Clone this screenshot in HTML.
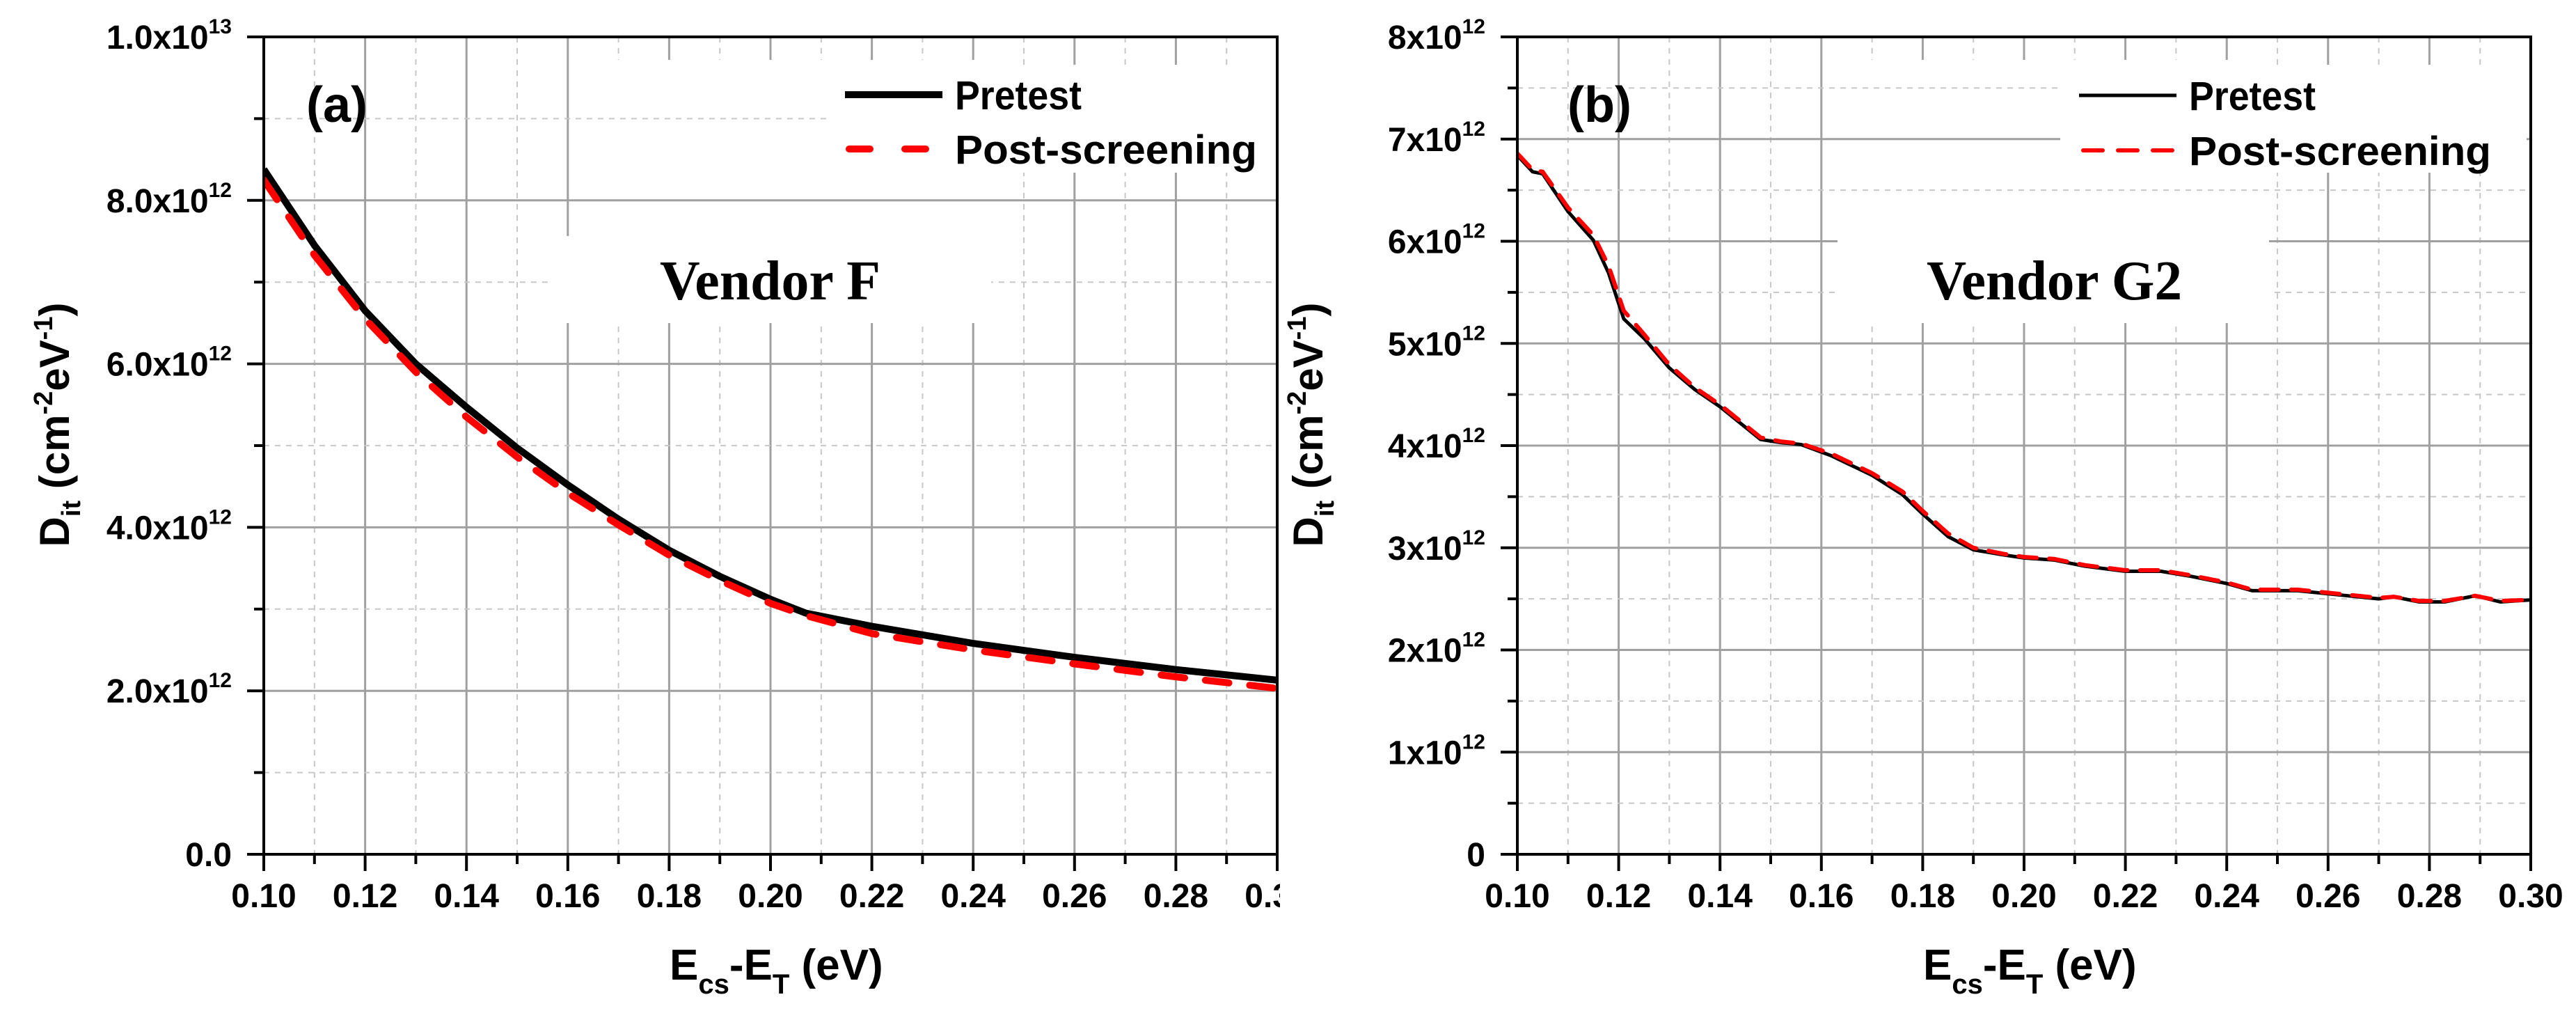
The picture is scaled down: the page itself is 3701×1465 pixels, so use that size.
<!DOCTYPE html>
<html><head><meta charset="utf-8"><style>
html,body{margin:0;padding:0;background:#fff;}
svg{display:block;font-family:"Liberation Sans",Arial,sans-serif;}
</style></head><body>
<svg id="fig" width="3701" height="1465" viewBox="0 0 3701 1465" xmlns="http://www.w3.org/2000/svg"></svg>
<script>
// Panel (a) Vendor F data (values in units of 1e12 cm^-2 eV^-1)
const xA = [0.100,0.110,0.120,0.130,0.140,0.150,0.160,0.170,0.180,0.190,0.200,0.207,0.220,0.240,0.260,0.280,0.300];
const pretestA = [8.38,7.45,6.65,6.00,5.47,4.97,4.52,4.10,3.72,3.40,3.12,2.95,2.79,2.58,2.41,2.26,2.13];
const postA = [8.25,7.33,6.55,5.90,5.35,4.86,4.42,4.03,3.66,3.35,3.07,2.92,2.70,2.50,2.33,2.17,2.03];
// Panel (b) Vendor G2 data
const xB = [0.100,0.103,0.105,0.110,0.115,0.118,0.121,0.125,0.130,0.135,0.140,0.144,0.148,0.152,0.156,0.162,0.170,0.176,0.180,0.185,0.190,0.196,0.200,0.206,0.212,0.220,0.227,0.233,0.240,0.245,0.254,0.262,0.270,0.273,0.278,0.283,0.289,0.294,0.300];
const pretestB = [6.84,6.68,6.66,6.29,6.01,5.69,5.24,5.05,4.76,4.55,4.38,4.22,4.06,4.03,4.01,3.90,3.71,3.52,3.33,3.11,2.98,2.93,2.90,2.88,2.82,2.77,2.77,2.72,2.65,2.58,2.58,2.54,2.50,2.52,2.47,2.47,2.53,2.47,2.49];
const postB = [6.86,6.70,6.68,6.33,6.06,5.76,5.32,5.09,4.79,4.57,4.40,4.24,4.08,4.04,4.02,3.92,3.73,3.55,3.36,3.14,3.00,2.94,2.91,2.89,2.83,2.78,2.78,2.73,2.66,2.59,2.59,2.55,2.51,2.52,2.48,2.48,2.53,2.48,2.49];
const xTicks = [0.10,0.12,0.14,0.16,0.18,0.20,0.22,0.24,0.26,0.28,0.30];
const yTicksA = [0,2,4,6,8,10];
const yTickLabelsA = [["0.0",""],["2.0x10","12"],["4.0x10","12"],["6.0x10","12"],["8.0x10","12"],["1.0x10","13"]];
const yTicksB = [0,1,2,3,4,5,6,7,8];
const yTickLabelsB = [["0",""],["1x10","12"],["2x10","12"],["3x10","12"],["4x10","12"],["5x10","12"],["6x10","12"],["7x10","12"],["8x10","12"]];

const NS="http://www.w3.org/2000/svg";
const svg=document.getElementById('fig');
function mk(tag,attrs,parent){const e=document.createElementNS(NS,tag);for(const k in attrs)e.setAttribute(k,attrs[k]);(parent||svg).appendChild(e);return e;}

function panel(o){
  const g=mk('g',{});
  
  
  const L=o.left,R=o.left+1456,T=53,B=1227;
  const sx=v=>L+(v-0.10)/0.20*(R-L);
  const sy=v=>B-v/o.ymax*(B-T);
  // vertical grid
  for(let i=0;i<10;i++){const x=sx(0.11+i*0.02);
    const l=mk('line',{x1:x,x2:x,y1:T,y2:B,stroke:'#c8c8c8','stroke-width':2,'stroke-dasharray':'8,8'},g);
    }
  xTicks.forEach(v=>{const x=sx(v);const l=mk('line',{x1:x,x2:x,y1:T,y2:B,stroke:'#a0a0a0','stroke-width':3},g);
    });
  // boxes hiding only vertical grid
  o.vboxes.forEach(b=>{const r=mk('rect',{x:b[0],y:b[1],width:b[2],height:b[3],fill:'#fff'},g);
    });
  // horizontal grid
  for(let i=0;i<o.yt.length-1;i++){const y=sy((o.yt[i]+o.yt[i+1])/2);
    const l=mk('line',{x1:L,x2:R,y1:y,y2:y,stroke:'#c8c8c8','stroke-width':2,'stroke-dasharray':'8,8'},g);
    }
  o.yt.forEach(v=>{const y=sy(v);const l=mk('line',{x1:L,x2:R,y1:y,y2:y,stroke:'#a0a0a0','stroke-width':3},g);
    });
  // white boxes (legend / label background)
  o.boxes.forEach(b=>{const r=mk('rect',{x:b[0],y:b[1],width:b[2],height:b[3],fill:'#fff'},g);
    });
  // series
  const pts=(xs,ys)=>xs.map((x,i)=>sx(x).toFixed(1)+','+sy(ys[i]).toFixed(1)).join(' ');
  const clip=mk('clipPath',{id:'clip'+o.id},g);mk('rect',{x:L,y:T,width:R-L,height:B-T},clip);
  const p1=mk('polyline',{points:pts(o.xs,o.pre),fill:'none',stroke:'#000','stroke-width':o.lw,'stroke-linejoin':'round','clip-path':'url(#clip'+o.id+')'},g);
  
  const p2=mk('polyline',{points:pts(o.xs,o.post),fill:'none',stroke:'#ff0000','stroke-width':o.lw2,'stroke-dasharray':o.dash,'stroke-linecap':'round','clip-path':'url(#clip'+o.id+')'},g);
  
  // axes frame
  const fr=mk('rect',{x:L,y:T,width:R-L,height:B-T,fill:'none',stroke:'#000','stroke-width':4},g);
  
  // x ticks
  for(let i=0;i<=20;i++){const v=0.10+i*0.01;const x=sx(v);const major=i%2==0;
    const t=mk('line',{x1:x,x2:x,y1:B,y2:B+(major?24:14),stroke:'#000','stroke-width':4},g);
    }
  xTicks.forEach(v=>{const tx=mk('text',{x:sx(v),y:1303,'font-size':48,'font-weight':'bold','text-anchor':'middle'},g);
    tx.textContent=v.toFixed(2);
    });
  if(o.clipLast){const r=mk('rect',{x:R+4,y:1255,width:60,height:70,fill:'#fff'},g);
    }
  // y ticks
  for(let i=0;i<o.yt.length;i++){const y=sy(o.yt[i]);
    const t=mk('line',{x1:L-24,x2:L,y1:y,y2:y,stroke:'#000','stroke-width':4},g);
    
    if(i<o.yt.length-1){const ym=sy((o.yt[i]+o.yt[i+1])/2);
      const m=mk('line',{x1:L-14,x2:L,y1:ym,y2:ym,stroke:'#000','stroke-width':4},g);
      }
    const lab=o.ylab[i];
    const tx=mk('text',{x:L-46,y:y+17,'font-size':48,'font-weight':'bold','text-anchor':'end'},g);
    
    const s1=mk('tspan',{},tx);s1.textContent=lab[0];
    if(lab[1]){const s2=mk('tspan',{'font-size':30,dy:-22},tx);s2.textContent=lab[1];}
  }
  // axis titles
  const xt=mk('text',{x:L+583,y:1407,'font-size':62,'font-weight':'bold'},g);
  
  let s=mk('tspan',{},xt);s.textContent='E';
  s=mk('tspan',{'font-size':40,dy:20},xt);s.textContent='cs';
  s=mk('tspan',{dy:-20},xt);s.textContent='-E';
  s=mk('tspan',{'font-size':40,dy:20},xt);s.textContent='T';
  s=mk('tspan',{dy:-20},xt);s.textContent=' (eV)';
  const yt=mk('text',{x:0,y:0,'font-size':60,'font-weight':'bold','text-anchor':'middle',transform:'translate('+(L-280)+',610) rotate(-90)'},g);
  
  s=mk('tspan',{},yt);s.textContent='D';
  s=mk('tspan',{'font-size':38,dy:16},yt);s.textContent='it';
  s=mk('tspan',{dy:-16},yt);s.textContent=' (cm';
  s=mk('tspan',{'font-size':38,dy:-24},yt);s.textContent='-2';
  s=mk('tspan',{dy:24},yt);s.textContent='eV';
  s=mk('tspan',{'font-size':38,dy:-24},yt);s.textContent='-1';
  s=mk('tspan',{dy:24},yt);s.textContent=')';
  // panel letter
  const pl=mk('text',{x:o.letterX,y:175,'font-size':72,'font-weight':'bold'},g);
  pl.textContent=o.letter;
  
  // vendor
  const vd=mk('text',{x:o.vendorX,y:430,'font-size':80,'font-weight':'bold','font-family':'"Liberation Serif",serif',textLength:o.vendorW,lengthAdjust:'spacingAndGlyphs'},g);
  vd.textContent=o.vendor;
  
  // legend
  const lg=mk('g',{},g);
  const l1=mk('line',{x1:o.legX,x2:o.legX+140,y1:o.legY1,y2:o.legY1,stroke:'#000','stroke-width':o.lw},lg);
  
  const l2=mk('line',{x1:o.legX+6,x2:o.legX+140,y1:o.legY2,y2:o.legY2,stroke:'#ff0000','stroke-width':o.lw2,'stroke-dasharray':o.legDash,'stroke-linecap':'round'},lg);
  
  const t1=mk('text',{x:o.legX+158,y:o.legY1+21,'font-size':58,'font-weight':'bold',textLength:182,lengthAdjust:'spacingAndGlyphs'},lg);
  t1.textContent='Pretest';
  const t2=mk('text',{x:o.legX+158,y:o.legY2+21,'font-size':58,'font-weight':'bold',textLength:434,lengthAdjust:'spacingAndGlyphs'},lg);
  t2.textContent='Post-screening';
}

panel({id:'a',name:'panel-a-vendor-f',left:379,ymax:10,yt:yTicksA,ylab:yTickLabelsA,xs:xA,pre:pretestA,post:postA,
  lw:10,lw2:10,dash:'34,30',legDash:'30,50',letter:'(a)',letterX:440,vendor:'Vendor F',vendorX:948,vendorW:317,clipLast:true,
  legX:1214,legY1:136,legY2:214,vboxes:[[818,86,587,253]],boxes:[[1190,93,640,155],[790,339,634,125]]});
panel({id:'b',name:'panel-b-vendor-g2',left:2180,ymax:8,yt:yTicksB,ylab:yTickLabelsB,xs:xB,pre:pretestB,post:postB,
  lw:5,lw2:6,dash:'26,18',legDash:'28,22',letter:'(b)',letterX:2252,vendor:'Vendor G2',vendorX:2768,vendorW:367,clipLast:false,
  legX:2987,legY1:137,legY2:216,vboxes:[[2660,86,580,253]],boxes:[[2960,93,670,155],[2640,339,620,125]]});
</script>
</body></html>
